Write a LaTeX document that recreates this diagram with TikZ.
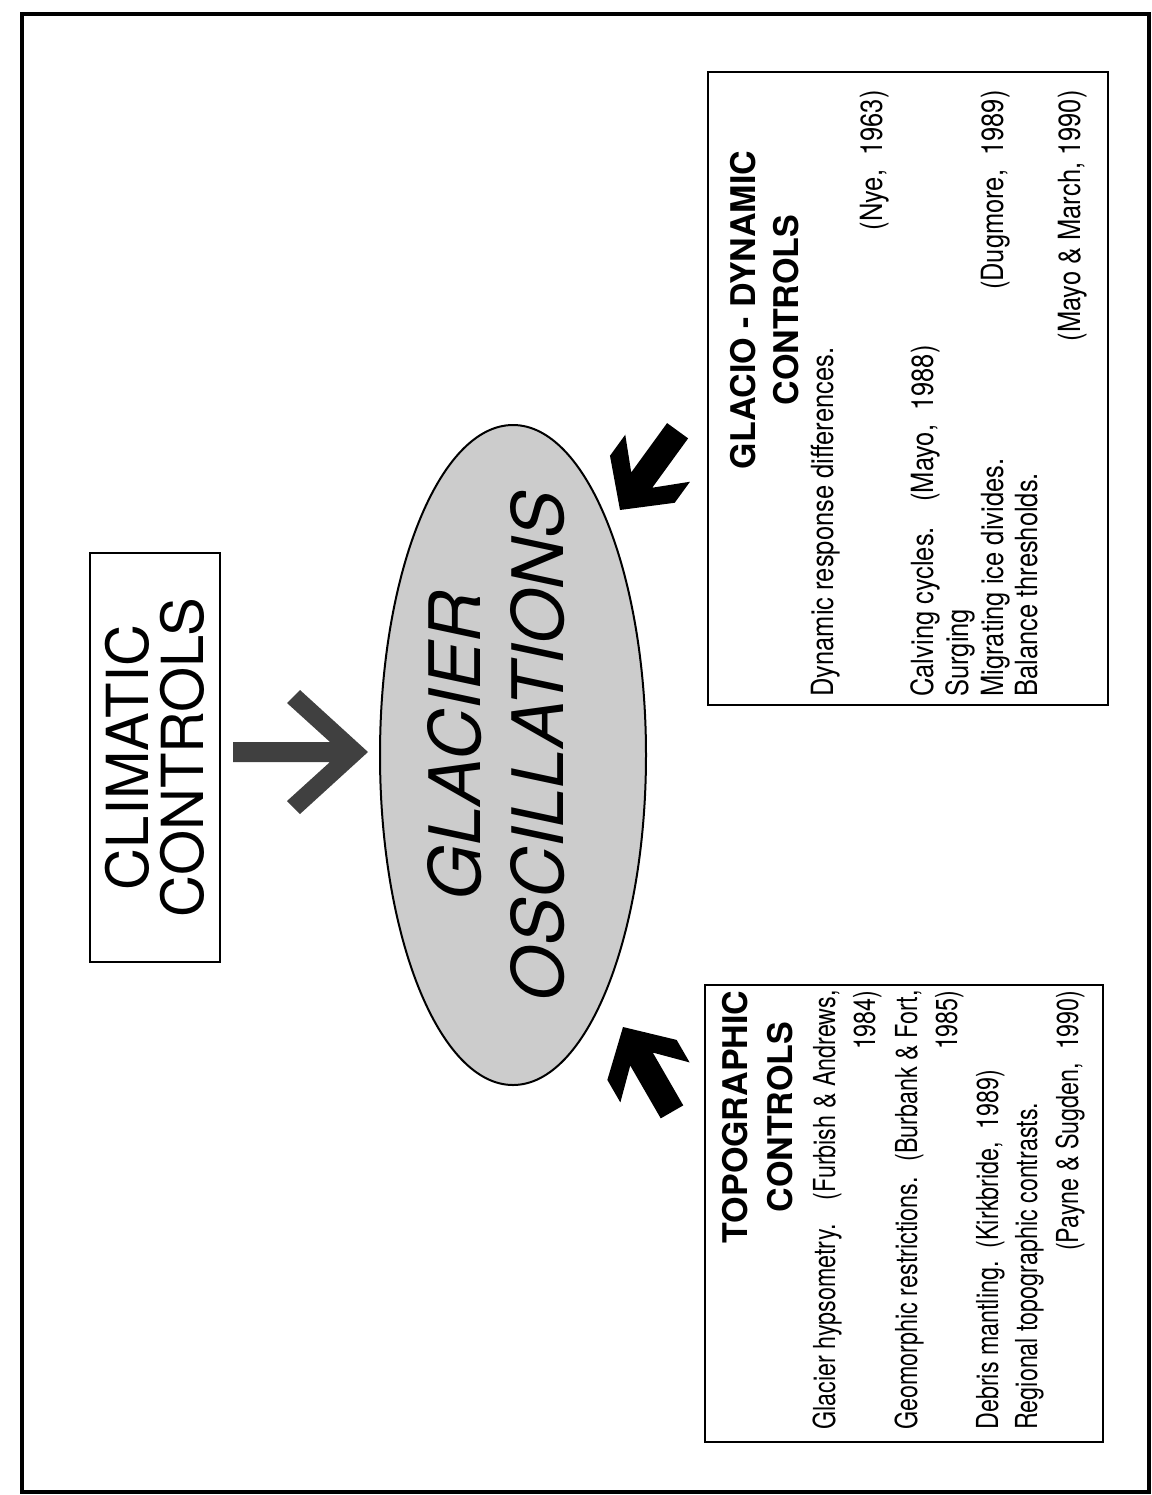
\documentclass[tikz,border=0pt]{standalone}
\usepackage{fontspec}
\setmainfont{TeX Gyre Heros}
\usetikzlibrary{shapes.geometric}

\tikzset{
  bigarrow/.pic={\fill[black!75] (0,0) -- (-68,62) -- (-81,49) -- (-38,10) -- (-135,10) -- (-135,-10) -- (-38,-10) -- (-81,-49) -- (-68,-62) -- cycle;},
  smallarrow/.pic={\fill[black] (0,0) -- (-38,40) -- (-64,40) -- (-37,13) -- (-98,13) -- (-98,-13) -- (-37,-13) -- (-64,-40) -- (-38,-40) -- cycle;}
}

\begin{document}
\begin{tikzpicture}[x=0.5pt, y=-0.5pt,
  txt/.style={rotate=90, inner sep=0pt, yscale=1.2, font=\fontsize{12.75}{15}\selectfont},
  ttxt/.style={rotate=90, inner sep=0pt, yscale=1.3, font=\fontsize{11.65}{14}\selectfont},
  head/.style={rotate=90, inner sep=0pt, font=\bfseries\fontsize{17}{20}\selectfont},
  panel/.style={draw, line width=1pt}
]
\useasboundingbox (0,0) rectangle (1152,1495);
\draw [line width=2pt] (22,14) rectangle (1149,1492);

% climatic box and the ellipse
\node [panel, rotate=90, minimum width=204.5pt, minimum height=65pt, align=center,
       font=\fontsize{29}{27.5}\selectfont] (clim) at (155,757.5) {CLIMATIC\\CONTROLS};
\node [ellipse, draw, line width=1pt, fill=black!20, rotate=90, minimum width=330pt, minimum height=133pt] (osc) at (513,755) {};
\node [rotate=90, inner sep=0pt, align=center, font=\itshape\fontsize{35.5}{41.5}\selectfont] (osctext) at (496,746) {GLACIER\\OSCILLATIONS};

\pic at (368,752) {bigarrow};
\pic [rotate=120] at (623,1027) {smallarrow};
\pic [rotate=234] at (620,510) {smallarrow};

% topographic controls
\draw [panel] (705,985) rectangle (1103,1442);
\node [head, anchor=base] (topo1) at (747,1117) {TOPOGRAPHIC};
\node [head, anchor=base] (topo2) at (792,1117) {CONTROLS};
\node [ttxt, anchor=base west] (tg1) at (835,1430) {Glacier hypsometry.};
\node [ttxt, anchor=base east] (tg1r) at (835,990) {(Furbish \& Andrews,};
\node [ttxt, anchor=base east] (tg2r) at (875,990) {1984)};
\node [ttxt, anchor=base west] (tg3) at (917,1430) {Geomorphic restrictions.};
\node [ttxt, anchor=base east] (tg3r) at (917,990) {(Burbank \& Fort,};
\node [ttxt, anchor=base east] (tg4r) at (957,990) {1985)};
\node [ttxt, anchor=base west] (tg5) at (998,1430) {Debris mantling.\ \ (Kirkbride,\ \ 1989)};
\node [ttxt, anchor=base west] (tg6) at (1037,1430) {Regional topographic contrasts.};
\node [ttxt, anchor=base east] (tg7r) at (1078,990) {(Payne \& Sugden,\ \ 1990)};

% glacio-dynamic controls
\draw [panel] (708,72) rectangle (1108,705);
\node [head, anchor=base] (dyn1) at (755,310) {GLACIO - DYNAMIC};
\node [head, anchor=base] (dyn2) at (798,310) {CONTROLS};
\node [txt, anchor=base west] (gd1) at (833,697) {Dynamic response differences.};
\node [txt, anchor=base east] (gd2r) at (882,90) {(Nye,\ \ 1963)};
\node [txt, anchor=base west] (gd3) at (933,697) {Calving cycles.\quad(Mayo,\ \ 1988)};
\node [txt, anchor=base west] (gd4) at (968,697) {Surging};
\node [txt, anchor=base west] (gd5) at (1003,697) {Migrating ice divides.};
\node [txt, anchor=base east] (gd5r) at (1003,90) {(Dugmore,\ \ 1989)};
\node [txt, anchor=base west] (gd6) at (1037,697) {Balance thresholds.};
\node [txt, anchor=base east] (gd7r) at (1080,90) {(Mayo \& March, 1990)};
\end{tikzpicture}
\end{document}
